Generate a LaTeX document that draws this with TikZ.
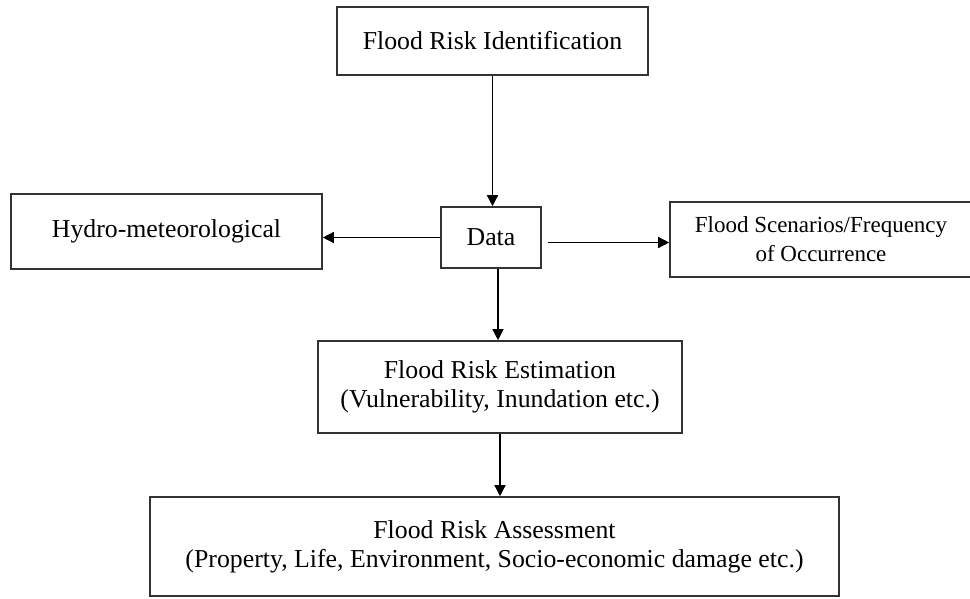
\documentclass[tikz,border=0pt]{standalone}
\usepackage{fontspec}
\setmainfont{Liberation Serif}
\usetikzlibrary{arrows.meta}
\begin{document}
\begin{tikzpicture}[x=1pt,y=-1pt,
  box/.style={draw=black!80, line width=1.6pt, inner sep=0pt, align=center,
    font=\fontsize{25.8pt}{29pt}\selectfont},
  smallbox/.style={box, font=\fontsize{23pt}{29pt}\selectfont},
  conn/.style={draw=black, line width=1.4pt, -{Triangle[length=11pt,width=11pt]}}]
\useasboundingbox (0,0) rectangle (970,598);
\node[box, minimum width=311pt, minimum height=68pt] (ident) at (492.5,41) {Flood Risk Identification};
\node[box, minimum width=311pt, minimum height=75pt] (hydro) at (166.5,231.5) {Hydro-meteorological};
\node[box, minimum width=100pt, minimum height=61pt] (data) at (491,237.5) {Data};
\node[smallbox, minimum width=302pt, minimum height=75pt] (scen) at (821,239.5) {Flood Scenarios/Frequency\\of Occurrence};
\node[box, minimum width=364pt, minimum height=92pt] (est) at (500,387) {Flood Risk Estimation\\(Vulnerability, Inundation etc.)};
\node[box, minimum width=689pt, minimum height=99pt] (assess) at (494.5,546.5) {Flood Risk Assessment\\(Property, Life, Environment, Socio-economic damage etc.)};
\draw[conn] (ident.south) -- (ident.south |- data.north);
\draw[conn] (data.west) -- (data.west -| hydro.east);
\draw[conn] ([xshift=6pt,yshift=-5pt]data.east) -- ([yshift=-5pt]data.east -| scen.west);
\draw[conn] ([xshift=7pt]data.south) -- ([xshift=7pt]data.south |- est.north);
\draw[conn] (est.south) -- (est.south |- assess.north);
\end{tikzpicture}
\end{document}
